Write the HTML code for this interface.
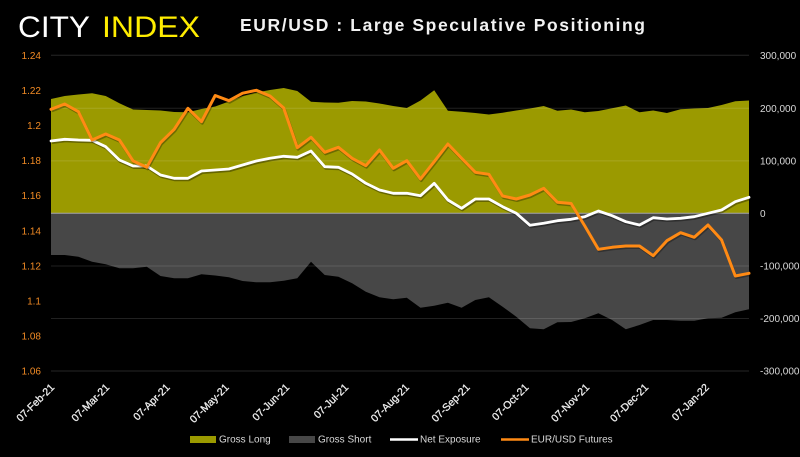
<!DOCTYPE html>
<html>
<head>
<meta charset="utf-8">
<style>
html,body{margin:0;padding:0;background:#000;}
svg{display:block;}
text{font-family:"Liberation Sans",sans-serif;}
</style>
</head>
<body>
<svg width="800" height="457" viewBox="0 0 800 457" xmlns="http://www.w3.org/2000/svg">
<rect x="0" y="0" width="800" height="457" fill="#000"/>

<!-- Title -->
<text x="18" y="37" font-size="30" fill="#ffffff" textLength="72" lengthAdjust="spacingAndGlyphs">CITY</text>
<text x="102" y="37" font-size="30" fill="#ffed00" textLength="98" lengthAdjust="spacingAndGlyphs">INDEX</text>
<text x="240" y="31" font-size="17.5" font-weight="bold" fill="#f2f2f2" textLength="405" lengthAdjust="spacing">EUR/USD : Large Speculative Positioning</text>

<!-- top/bottom gridlines on black -->
<g stroke="#262626" stroke-width="1">
<line x1="51" y1="55.3" x2="749" y2="55.3"/>
<line x1="51" y1="371" x2="749" y2="371"/>
</g>

<!-- Gross Long area -->
<polygon fill="#9b9a00" points="51,213.3 51,99 64.7,96 78.4,94.5 92.1,93.3 105.7,96 119.4,103.3 133.1,109.5 146.8,110 160.5,110.5 174.2,112 187.9,112.3 201.5,109 215.2,106.5 228.9,101.5 242.6,96 256.3,92.5 270,90 283.7,88 297.3,91 311,101.7 324.7,102.5 338.4,102.7 352.1,101 365.8,101.5 379.5,103.5 393.2,106 406.8,108 420.5,100.5 434.2,90.3 447.9,110.7 461.6,111.8 475.3,113 488.9,114.5 502.6,112.7 516.3,110.5 530,108.5 543.7,106 557.4,110.7 571.1,109.5 584.8,112.3 598.4,111 612.1,108.3 625.8,105.5 639.5,112.3 653.2,110.5 666.9,113 680.6,109.3 694.3,108.5 708,108 721.6,105 735.3,101.2 749,100.5 749,213.3"/>

<!-- Gross Short area -->
<polygon fill="#474747" points="51,213.3 749,213.3 749,309.3 735.3,312.3 721.6,317.7 708,318.3 694.3,320.7 680.6,320.7 666.9,320 653.2,320 639.5,325 625.8,329.3 612.1,320 598.4,313.3 584.8,318.3 571.1,322 557.4,322.3 543.7,329.3 530,328.3 516.3,316.7 502.6,306.7 488.9,297.3 475.3,300 461.6,307.7 447.9,302.7 434.2,305.7 420.5,307.7 406.8,297.7 393.2,299.3 379.5,297.3 365.8,291.7 352.1,283.3 338.4,276.7 324.7,275 311,261.7 297.3,278.3 283.7,280.7 270,282.3 256.3,282.3 242.6,281 228.9,277.3 215.2,275.5 201.5,274.3 187.9,278.3 174.2,278.3 160.5,276 146.8,266.7 133.1,268.3 119.4,268.3 105.7,264.3 92.1,261.7 78.4,256.7 64.7,255 51,255"/>

<!-- gridlines over areas -->
<g stroke="rgba(255,255,255,0.13)" stroke-width="1">
<line x1="51" y1="108.3" x2="749" y2="108.3"/>
<line x1="51" y1="160.9" x2="749" y2="160.9"/>
<line x1="51" y1="266" x2="749" y2="266"/>
<line x1="51" y1="318.5" x2="749" y2="318.5"/>
</g>
<line x1="51" y1="213.3" x2="749" y2="213.3" stroke="#a6a6a6" stroke-width="1"/>

<!-- Net Exposure shadow + line -->
<polyline fill="none" stroke="rgba(0,0,0,0.35)" stroke-width="3" stroke-linejoin="round" transform="translate(0.8,1.5)" points="51,141 64.7,139.3 78.4,140 92.1,140.3 105.7,146.7 119.4,160 133.1,166 146.8,166 160.5,175 174.2,178.3 187.9,178.3 201.5,171 215.2,170 228.9,169 242.6,165 256.3,161 270,158.3 283.7,156.3 297.3,157.3 311,151 324.7,166.7 338.4,167.3 352.1,174 365.8,183.3 379.5,190 393.2,193.3 406.8,193.3 420.5,195.7 434.2,183.3 447.9,200 461.6,208.3 475.3,199 488.9,199 502.6,206.7 516.3,213.3 530,225.3 543.7,223.3 557.4,220.7 571.1,219.3 584.8,216.7 598.4,211 612.1,215.7 625.8,221.7 639.5,225 653.2,217.7 666.9,219 680.6,218.3 694.3,216.7 708,213.3 721.6,210 735.3,201.7 749,197.3"/>
<polyline fill="none" stroke="#ffffff" stroke-width="2.8" stroke-linejoin="round" stroke-linecap="round" points="51,141 64.7,139.3 78.4,140 92.1,140.3 105.7,146.7 119.4,160 133.1,166 146.8,166 160.5,175 174.2,178.3 187.9,178.3 201.5,171 215.2,170 228.9,169 242.6,165 256.3,161 270,158.3 283.7,156.3 297.3,157.3 311,151 324.7,166.7 338.4,167.3 352.1,174 365.8,183.3 379.5,190 393.2,193.3 406.8,193.3 420.5,195.7 434.2,183.3 447.9,200 461.6,208.3 475.3,199 488.9,199 502.6,206.7 516.3,213.3 530,225.3 543.7,223.3 557.4,220.7 571.1,219.3 584.8,216.7 598.4,211 612.1,215.7 625.8,221.7 639.5,225 653.2,217.7 666.9,219 680.6,218.3 694.3,216.7 708,213.3 721.6,210 735.3,201.7 749,197.3"/>

<!-- EUR/USD Futures -->
<polyline fill="none" stroke="rgba(0,0,0,0.3)" stroke-width="3" stroke-linejoin="round" transform="translate(0.8,1.5)" points="51,109.3 64.7,104 78.4,111.7 92.1,140 105.7,134 119.4,140 133.1,161 146.8,167.3 160.5,142.7 174.2,129.3 187.9,108.3 201.5,121.7 215.2,95.5 228.9,100.7 242.6,93.2 256.3,90.3 270,96 283.7,108 297.3,147.7 311,137.3 324.7,152.3 338.4,147.3 352.1,158.3 365.8,165.7 379.5,150 393.2,168.3 406.8,160.7 420.5,179 434.2,161.7 447.9,144 461.6,158.3 475.3,172.3 488.9,174.3 502.6,196 516.3,199 530,195 543.7,188.3 557.4,202.3 571.1,203.5 584.8,226 598.4,249.3 612.1,247.3 625.8,246 639.5,246 653.2,255.7 666.9,240.7 680.6,232.7 694.3,237.3 708,225 721.6,240 735.3,276 749,273.3"/>
<polyline fill="none" stroke="#ff8a14" stroke-width="3" stroke-linejoin="round" stroke-linecap="round" points="51,109.3 64.7,104 78.4,111.7 92.1,140 105.7,134 119.4,140 133.1,161 146.8,167.3 160.5,142.7 174.2,129.3 187.9,108.3 201.5,121.7 215.2,95.5 228.9,100.7 242.6,93.2 256.3,90.3 270,96 283.7,108 297.3,147.7 311,137.3 324.7,152.3 338.4,147.3 352.1,158.3 365.8,165.7 379.5,150 393.2,168.3 406.8,160.7 420.5,179 434.2,161.7 447.9,144 461.6,158.3 475.3,172.3 488.9,174.3 502.6,196 516.3,199 530,195 543.7,188.3 557.4,202.3 571.1,203.5 584.8,226 598.4,249.3 612.1,247.3 625.8,246 639.5,246 653.2,255.7 666.9,240.7 680.6,232.7 694.3,237.3 708,225 721.6,240 735.3,276 749,273.3"/>

<!-- Left axis labels -->
<g font-size="10" fill="#f08a24" text-anchor="end">
<text x="41" y="58.8">1.24</text>
<text x="41" y="93.9">1.22</text>
<text x="41" y="129">1.2</text>
<text x="41" y="164.1">1.18</text>
<text x="41" y="199.2">1.16</text>
<text x="41" y="234.3">1.14</text>
<text x="41" y="269.4">1.12</text>
<text x="41" y="304.5">1.1</text>
<text x="41" y="339.6">1.08</text>
<text x="41" y="374.7">1.06</text>
</g>

<!-- Right axis labels -->
<g font-size="10" fill="#d9d9d9">
<text x="760" y="58.8">300,000</text>
<text x="760" y="111.8">200,000</text>
<text x="760" y="164.4">100,000</text>
<text x="760" y="216.8">0</text>
<text x="760" y="269.5">-100,000</text>
<text x="760" y="322">-200,000</text>
<text x="760" y="374.5">-300,000</text>
</g>

<!-- X axis labels -->
<g font-size="10.5" fill="#ececec" stroke="#ececec" stroke-width="0.3" text-anchor="end">
<text transform="translate(55,388) rotate(-45)">07-Feb-21</text>
<text transform="translate(110,388) rotate(-45)">07-Mar-21</text>
<text transform="translate(170.5,388) rotate(-45)">07-Apr-21</text>
<text transform="translate(229.5,388) rotate(-45)">07-May-21</text>
<text transform="translate(290,388) rotate(-45)">07-Jun-21</text>
<text transform="translate(349,388) rotate(-45)">07-Jul-21</text>
<text transform="translate(409.8,388) rotate(-45)">07-Aug-21</text>
<text transform="translate(470.5,388) rotate(-45)">07-Sep-21</text>
<text transform="translate(529.3,388) rotate(-45)">07-Oct-21</text>
<text transform="translate(590,388) rotate(-45)">07-Nov-21</text>
<text transform="translate(649,388) rotate(-45)">07-Dec-21</text>
<text transform="translate(709.6,388) rotate(-45)">07-Jan-22</text>
</g>

<!-- Legend -->
<rect x="190" y="436" width="26" height="7" fill="#9b9a00"/>
<text x="219" y="442.7" font-size="10" fill="#d9d9d9">Gross Long</text>
<rect x="289" y="436" width="26" height="7" fill="#474747"/>
<text x="318" y="442.7" font-size="10" fill="#d9d9d9">Gross Short</text>
<line x1="390" y1="439.5" x2="418" y2="439.5" stroke="#ffffff" stroke-width="2.6"/>
<text x="420" y="442.7" font-size="10" fill="#d9d9d9">Net Exposure</text>
<line x1="501" y1="439.5" x2="529" y2="439.5" stroke="#ff8a14" stroke-width="2.6"/>
<text x="531" y="442.7" font-size="10" fill="#d9d9d9">EUR/USD Futures</text>
</svg>
</body>
</html>
